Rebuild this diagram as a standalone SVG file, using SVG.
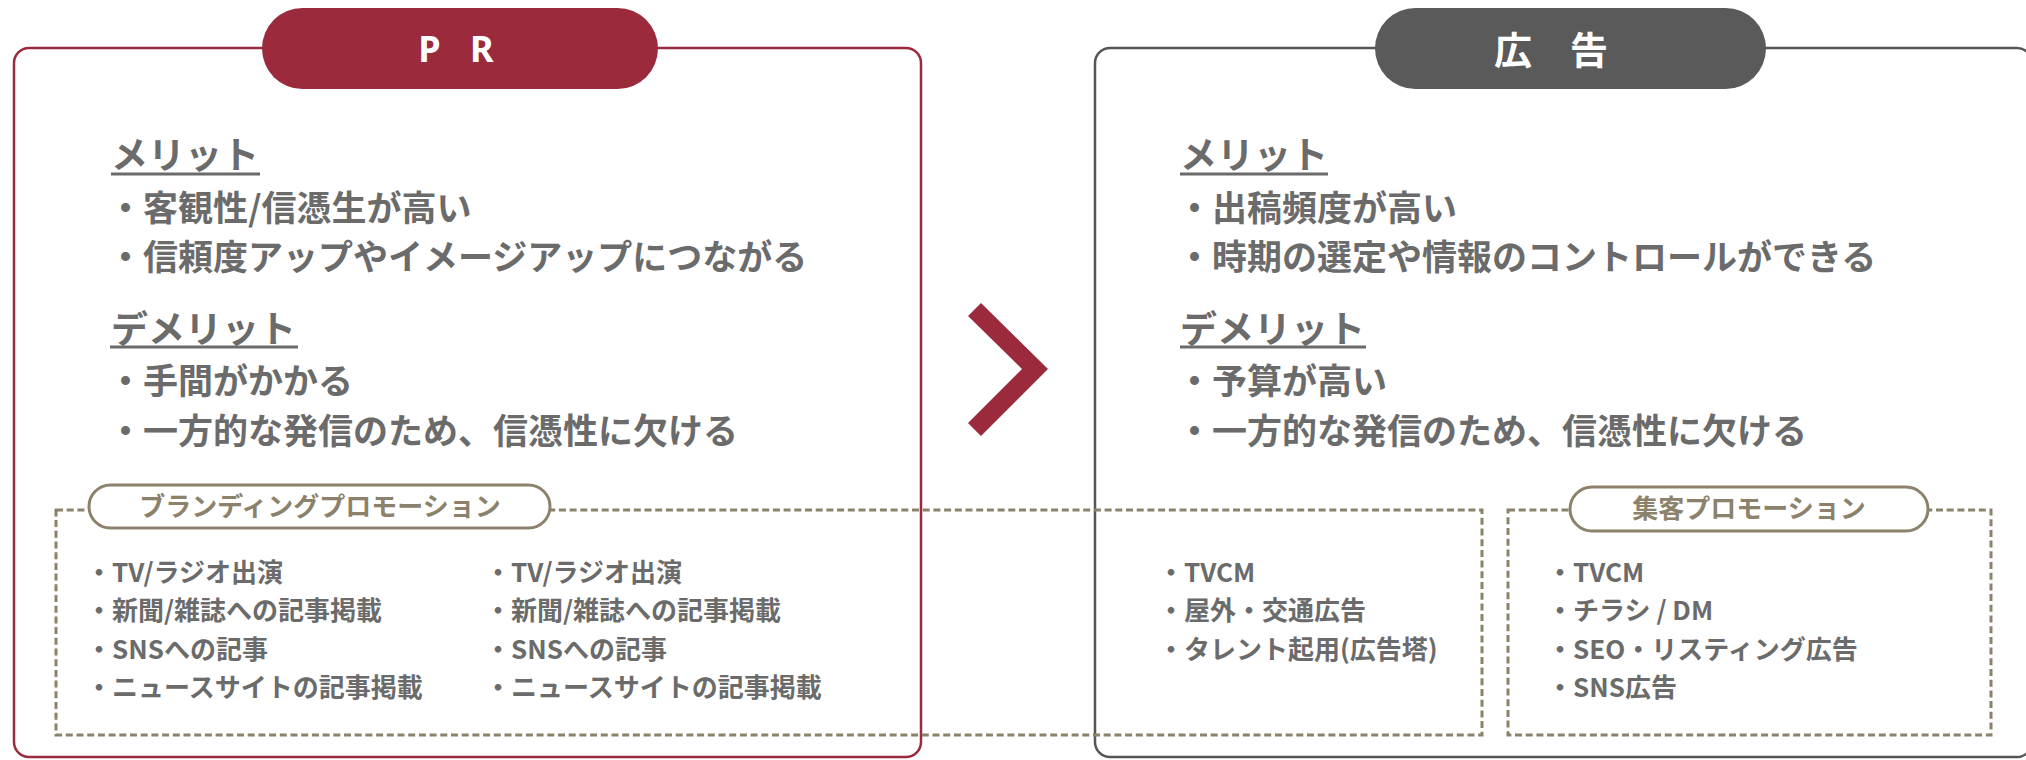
<svg xmlns="http://www.w3.org/2000/svg" width="2026" height="760" viewBox="0 0 2026 760">
<style>
text{font-family:"Noto Sans CJK JP","Noto Sans",sans-serif}
.h{font-size:37px;font-weight:700;fill:#6b6b6b}
.it{font-size:35px;font-weight:700;fill:#6b6b6b}
.sm{font-size:26px;font-weight:700;fill:#6b6b6b}
.ul{stroke:#6b6b6b;stroke-width:3}
.dash{fill:none;stroke:#8c826b;stroke-width:3;stroke-dasharray:7 3.7}
.pill{fill:#fff;stroke:#8c826b;stroke-width:3}
.pt{font-size:26px;font-weight:700;fill:#8c826b;text-anchor:middle}
</style>
<rect width="2026" height="760" fill="#fff"/>
<g id="pr-box">
<rect x="14" y="48" width="907" height="709" rx="15" fill="none" stroke="#9b2a3c" stroke-width="2.5"/>
<rect x="262" y="8" width="396" height="81" rx="40.5" fill="#9b2a3c"/>
<text x="461" y="62" font-size="36" font-weight="700" fill="#fff" text-anchor="middle" letter-spacing="10" style="font-family:'Noto Sans',sans-serif">P R</text>
<text class="h" x="111" y="169">メリット</text>
<line class="ul" x1="111" y1="174" x2="260" y2="174"/>
<text class="it" x="108" y="221">・客観性/信憑生が高い</text>
<text class="it" x="108" y="270">・信頼度アップやイメージアップにつながる</text>
<text class="h" x="111" y="343">デメリット</text>
<line class="ul" x1="110" y1="347" x2="298" y2="347"/>
<text class="it" x="108" y="394">・手間がかかる</text>
<text class="it" x="108" y="444">・一方的な発信のため、信憑性に欠ける</text>
</g>
<g id="ad-box">
<rect x="1095" y="48" width="937" height="709" rx="15" fill="none" stroke="#555555" stroke-width="2.5"/>
<rect x="1375" y="8" width="391" height="81" rx="40.5" fill="#5a5a5a"/>
<text x="1570" y="64" font-size="38" font-weight="700" fill="#fff" text-anchor="middle" letter-spacing="38">広告</text>
<text class="h" x="1180" y="169">メリット</text>
<line class="ul" x1="1180" y1="174" x2="1328" y2="174"/>
<text class="it" x="1177" y="221">・出稿頻度が高い</text>
<text class="it" x="1177" y="270">・時期の選定や情報のコントロールができる</text>
<text class="h" x="1180" y="343">デメリット</text>
<line class="ul" x1="1180" y1="347" x2="1366" y2="347"/>
<text class="it" x="1177" y="394">・予算が高い</text>
<text class="it" x="1177" y="444">・一方的な発信のため、信憑性に欠ける</text>
</g>
<g id="arrow">
<polygon points="981,303 1048,369 981,436 968,423 1022,369 968,316" fill="#9b2a3c"/>
</g>
<g id="branding">
<rect class="dash" x="56" y="510" width="1426" height="225"/>
<rect class="pill" x="89" y="485" width="461" height="43" rx="21.5"/>
<text class="pt" x="320" y="516">ブランディングプロモーション</text>
<text class="sm" x="86" y="582">・TV/ラジオ出演</text>
<text class="sm" x="86" y="620">・新聞/雑誌への記事掲載</text>
<text class="sm" x="86" y="659">・SNSへの記事</text>
<text class="sm" x="86" y="697">・ニュースサイトの記事掲載</text>
<text class="sm" x="485" y="582">・TV/ラジオ出演</text>
<text class="sm" x="485" y="620">・新聞/雑誌への記事掲載</text>
<text class="sm" x="485" y="659">・SNSへの記事</text>
<text class="sm" x="485" y="697">・ニュースサイトの記事掲載</text>
<text class="sm" x="1158" y="582">・TVCM</text>
<text class="sm" x="1158" y="620">・屋外・交通広告</text>
<text class="sm" x="1158" y="659">・タレント起用(広告塔)</text>
</g>
<g id="shukyaku">
<rect class="dash" x="1508" y="510" width="483" height="225"/>
<rect class="pill" x="1570" y="487" width="358" height="44" rx="22"/>
<text class="pt" x="1749" y="518">集客プロモーション</text>
<text class="sm" x="1547" y="582">・TVCM</text>
<text class="sm" x="1547" y="620">・チラシ / DM</text>
<text class="sm" x="1547" y="659">・SEO・リスティング広告</text>
<text class="sm" x="1547" y="697">・SNS広告</text>
</g>
</svg>
